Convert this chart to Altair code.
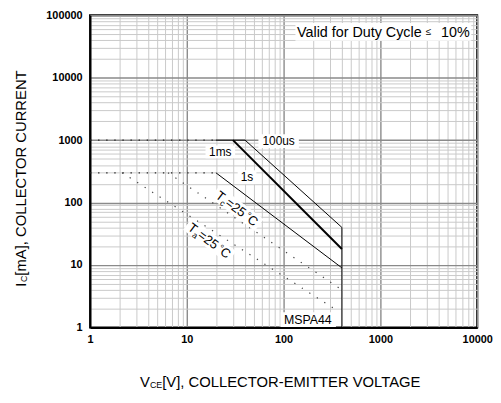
import json
import altair as alt
import pandas as pd

# ---------------- data (V in volts, Ic in mA) ----------------
# solid safe-operating-area limits
p100us_v = [20, 40, 400, 400]
p100us_i = [1000, 1000, 40, 1]
p1ms_v = [30, 400]
p1ms_i = [1000, 18]
p1s_v = [20, 400]
p1s_i = [300, 9]
# dotted limits
dc1000_v = [1, 20]
dc1000_i = [1000, 1000]
dc300_v = [1, 20]
dc300_i = [300, 300]
tc_v = [6.4, 400]
tc_i = [300, 4]
ta_v = [2.15, 360]
ta_i = [300, 1.85]

x_decades = [1, 10, 100, 1000, 10000]
y_decades = [1, 10, 100, 1000, 10000, 100000]

# annotation anchors (data coordinates)
ann_names = ["1ms", "100us", "1s", "MSPA44", "valid", "tc", "ta"]
ann_v = [22.2, 88.9, 41.9, 180, 1073, 33.1, 17.2]
ann_i = [649, 964, 255, 1.33, 54000, 80.6, 24.6]

FONT = "Liberation Sans"
MAJOR = "#8a8a8a"
MINOR = "#c9c9c9"

# Arial-metric advance widths (em)
CW = {"T": .611, "c": .5, "a": .556, "=": .584, "2": .556, "5": .556, "°": .4, "C": .722,
      "I": .278, "E": .667, "V": .667, " ": .278, "[": .278, "]": .278, ",": .278, "m": .833,
      "A": .667, "O": .778, "L": .556, "R": .722, "-": .333, "M": .833, "G": .778, "U": .722,
      "N": .722, "l": .222, "i": .222, "d": .556, "f": .278, "o": .556, "r": .333, "D": .722,
      "u": .556, "t": .278, "y": .5, "e": .556, "≤": .549, "1": .556, "0": .556, "%": .889,
      "s": .5, "P": .667, "S": .667, "4": .556}


def tw(s, size):
    return sum(CW.get(ch, 0.6) for ch in s) * size


def minor_values(decades):
    vals = []
    for d in decades[:-1]:
        vals += [d * m for m in range(1, 10)]
    vals.append(decades[-1])
    return vals


def make_axis(decades, pad):
    test = "indexof(%s, datum.value) >= 0" % json.dumps(decades)
    return alt.Axis(
        values=minor_values(decades),
        labelExpr=f"{test} ? format(datum.value, 'd') : ''",
        grid=True,
        gridColor={"condition": {"test": test, "value": MAJOR}, "value": MINOR},
        gridWidth={"condition": {"test": test, "value": 1.4}, "value": 1},
        ticks=False, tickSize=0,
        domain=True, domainColor="black", domainWidth=2,
        labelFont=FONT, labelFontWeight="bold", labelFontSize=11, labelColor="black",
        labelPadding=pad, labelOverlap=False, labelFlush=False, labelBound=False,
        title=None,
    )


X = alt.X("v:Q", scale=alt.Scale(type="log", domain=[1, 10000], nice=False),
          axis=make_axis(x_decades, 6))
Y = alt.Y("i:Q", scale=alt.Scale(type="log", domain=[1, 100000], nice=False),
          axis=make_axis(y_decades, 8))

rows = []
for name, vs, cs in [("100us", p100us_v, p100us_i), ("1ms", p1ms_v, p1ms_i), ("1s", p1s_v, p1s_i),
                     ("dc1000", dc1000_v, dc1000_i), ("dc300", dc300_v, dc300_i),
                     ("tc", tc_v, tc_i), ("ta", ta_v, ta_i)]:
    for k, (a, b) in enumerate(zip(vs, cs)):
        rows.append({"series": name, "order": k, "v": a, "i": b})
lines_df = pd.DataFrame(rows)
ann_df = pd.DataFrame({"name": ann_names, "v": ann_v, "i": ann_i})


def line_layer(names, **style):
    return alt.Chart(lines_df).transform_filter(
        alt.FieldOneOfPredicate(field="series", oneOf=names)
    ).mark_line(**style).encode(x=X, y=Y, detail="series:N", order="order:Q")


layers = [
    line_layer(["dc1000", "dc300"], color="#222222", strokeWidth=1.3, strokeDash=[1.4, 6.8]),
    line_layer(["tc", "ta"], color="#444444", strokeWidth=1.2, strokeDash=[1.3, 7.7]),
    line_layer(["100us", "1s"], color="black", strokeWidth=1),
    line_layer(["1ms"], color="black", strokeWidth=2),
]


def box(name, w, h, angle=0):
    path = f"M-1,{-h / w:.4f}H1V{h / w:.4f}H-1Z"
    kw = dict(shape=path, size=w * w, filled=True, color="white", opacity=1, strokeWidth=0)
    if angle:
        kw["angle"] = angle
    return alt.Chart(ann_df).transform_filter(f"datum.name == '{name}'").mark_point(**kw).encode(x=X, y=Y)


def composite(parts, angle=0, name=None, px=None, py=None):
    """parts: list of (text, size, shift, gap_after)"""
    total = sum(tw(t, s) + g for t, s, sh, g in parts)
    base = 0.35 * max(s for t, s, sh, g in parts)
    out = []
    cum = -total / 2
    for t, s, sh, g in parts:
        kw = dict(text=t, fontSize=s, font=FONT, color="black", align="left",
                  baseline="alphabetic", dx=round(cum, 2), dy=round(base + sh, 2))
        if angle:
            kw["angle"] = angle
        if name is not None:
            ch = alt.Chart(ann_df).transform_filter(f"datum.name == '{name}'").mark_text(**kw).encode(x=X, y=Y)
        else:
            ch = alt.Chart(pd.DataFrame({"k": [0]})).mark_text(**kw).encode(
                x=alt.value(px), y=alt.value(py))
        out.append(ch)
        cum += tw(t, s) + g
    return out


# white label backgrounds
layers += [
    box("1ms", 30, 13), box("100us", 41, 14), box("1s", 19, 14), box("MSPA44", 56, 15),
    box("valid", 178, 18), box("tc", 56, 15, 37), box("ta", 56, 15, 37),
]

# label texts
layers += composite([("1ms", 12, 0, 0)], name="1ms")
layers += composite([("100us", 12, 0, 0)], name="100us")
layers += composite([("1s", 12, 0, 0)], name="1s")
layers += composite([("MSPA44", 12.5, 0, 0)], name="MSPA44")
layers += composite([("Valid for Duty Cycle", 14.5, 0, 3), ("≤", 10, -2.5, 10), ("10%", 14.5, 0, 0)],
                    name="valid")
layers += composite([("T", 13, 0, 0), ("c", 8.5, 3, 0), ("=25", 13, 0, 2), ("°", 10, -2.5, 0),
                     ("C", 13, 0, 0)], angle=37, name="tc")
layers += composite([("T", 13, 0, 0), ("a", 8.5, 3, 0), ("=25", 13, 0, 2), ("°", 10, -2.5, 0),
                     ("C", 13, 0, 0)], angle=37, name="ta")

# axis titles with subscripts
layers += composite([("V", 15, 0, 0), ("CE", 9, 1, 0), ("[V], COLLECTOR-EMITTER VOLTAGE", 15, 0, 0)],
                    px=194, py=376 - 5.25)
layers += composite([("I", 15, 0, 0.5), ("C", 9, 1, 0), ("[mA], COLLECTOR CURRENT", 15, 0, 0)],
                    angle=270, px=-65 - 5.25, py=165)

chart = alt.layer(*layers).properties(
    width=392, height=316,
    autosize=alt.AutoSizeParams(type="none"),
    padding={"left": 83, "top": 5, "right": 16, "bottom": 62},
    background="white",
).configure_view(stroke="black", strokeWidth=2)

chart.save("out.html", embed_options={"renderer": "svg", "actions": False})
